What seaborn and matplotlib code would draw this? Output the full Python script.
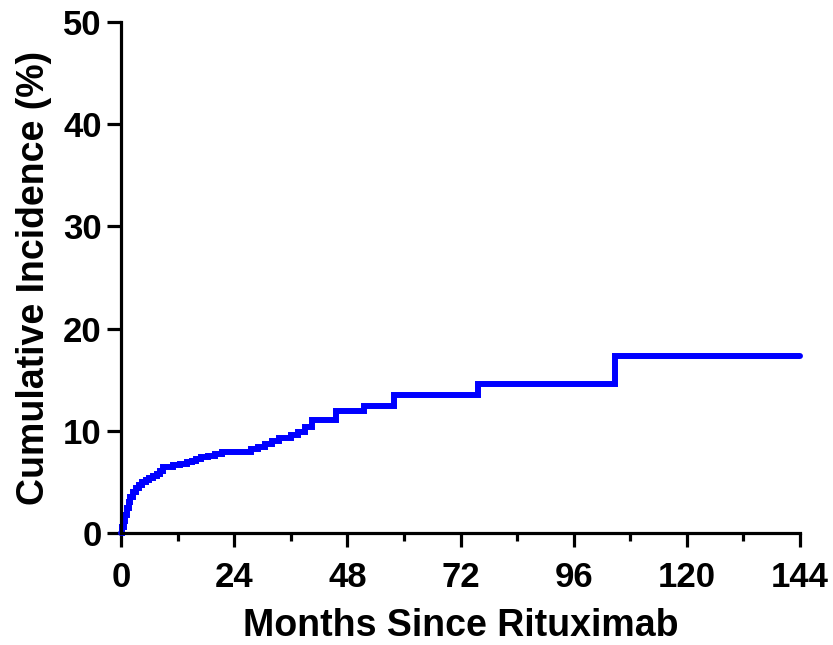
import matplotlib
matplotlib.use("Agg")
import matplotlib.pyplot as plt
import seaborn as sns
import pandas as pd
from matplotlib.ticker import MultipleLocator

# Data (months, cumulative incidence %)
months = [0, 0.3, 0.6, 0.9, 1.2, 1.6, 2.0, 2.6, 3.2, 3.8, 4.5, 5.2, 6.0, 6.8, 7.6,
          8.3, 9.0, 11.0, 12.5, 14.0, 15.0, 16.0, 17.0, 18.5, 20.0, 21.5, 27.5,
          29.0, 30.5, 32.0, 33.5, 36.0, 37.5, 39.0, 40.5, 45.5, 51.5, 57.8, 75.8,
          104.8, 144]
incidence = [0, 0.6, 1.2, 1.8, 2.4, 3.0, 3.5, 4.0, 4.4, 4.7, 5.0, 5.2, 5.4, 5.6, 5.8,
             6.1, 6.5, 6.65, 6.75, 6.9, 7.05, 7.25, 7.4, 7.55, 7.7, 7.9, 8.2,
             8.45, 8.75, 9.05, 9.3, 9.6, 9.9, 10.4, 11.05, 11.95, 12.4, 13.5, 14.55,
             17.3, 17.3]
x_ticks = [0, 24, 48, 72, 96, 120, 144]
y_ticks = [0, 10, 20, 30, 40, 50]

sns.set_style("ticks")
plt.rcParams["font.family"] = ["Liberation Sans", "DejaVu Sans"]
plt.rcParams["font.weight"] = "bold"
for key in ["text.color", "axes.labelcolor", "xtick.color", "ytick.color", "axes.edgecolor"]:
    plt.rcParams[key] = "black"

df = pd.DataFrame({"Months": months, "Incidence": incidence})

fig = plt.figure(figsize=(8.33, 6.45), dpi=100)
ax = fig.add_axes([121 / 833, 112 / 645, 679 / 833, 511 / 645])

sns.lineplot(data=df, x="Months", y="Incidence", drawstyle="steps-post",
             color="#0000FF", linewidth=4.3, estimator=None, ax=ax, clip_on=False,
             solid_joinstyle="miter")

ax.set_xlim(0, 144)
ax.set_ylim(0, 50)
ax.set_xticks(x_ticks)
ax.set_yticks(y_ticks)
ax.xaxis.set_minor_locator(MultipleLocator(12))

for s in ["top", "right"]:
    ax.spines[s].set_visible(False)
for s in ["left", "bottom"]:
    ax.spines[s].set_linewidth(2.3)
    ax.spines[s].set_color("black")

ax.tick_params(axis="both", which="major", length=10, width=2.3, color="black",
               labelsize=25, labelcolor="black", direction="out")
ax.tick_params(axis="x", which="major", pad=10)
ax.tick_params(axis="y", which="major", pad=4)
ax.tick_params(axis="x", which="minor", length=6, width=2.3, color="black")
for lab in ax.get_xticklabels() + ax.get_yticklabels():
    lab.set_fontweight("bold")

ax.set_xlabel("Months Since Rituximab", fontsize=27, fontweight="bold",
              color="black", labelpad=10)
ax.set_ylabel("Cumulative Incidence (%)", fontsize=27, fontweight="bold",
              color="black", labelpad=8)

fig.savefig("out.png", dpi=100)
